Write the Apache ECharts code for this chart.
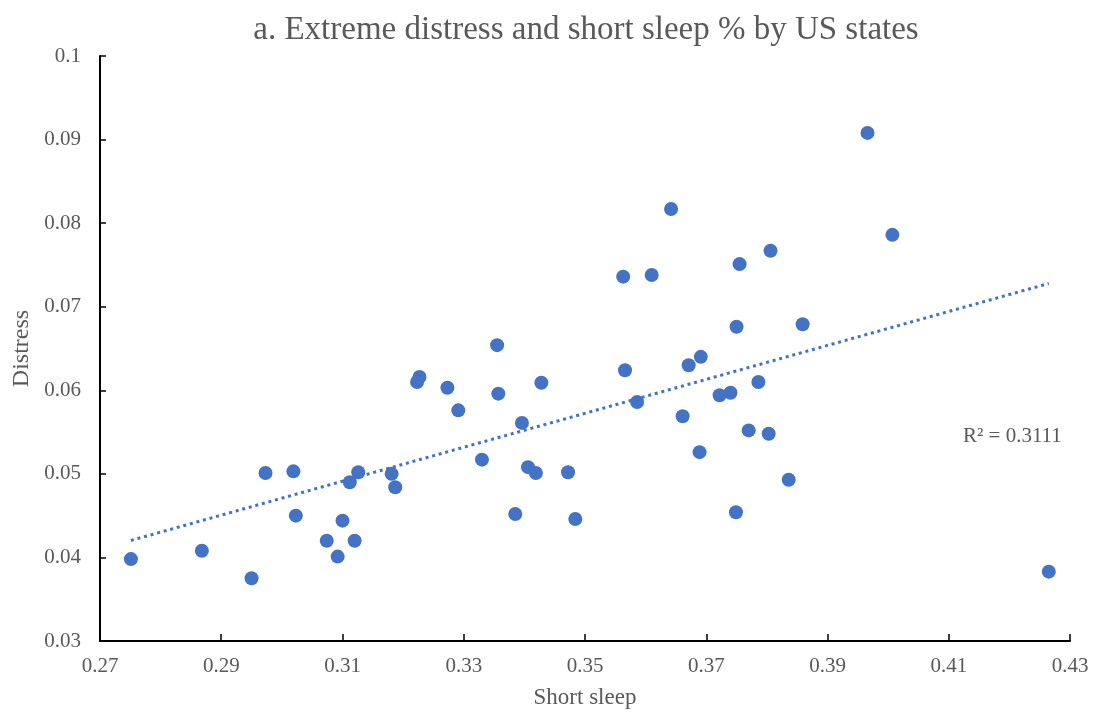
<!DOCTYPE html>
<html style="height: 100%">
   <head>
       <meta charset="utf-8">
   </head>
   <body style="height: 100%; margin: 0">
       <div id="container" style="height: 712px; width: 1093px"></div>
       <script type="text/javascript" src="https://cdn.jsdelivr.net/npm/echarts/dist/echarts.min.js"></script>
       <script type="text/javascript">
// short sleep share by state
var shortSleep = [0.2751,0.2868,0.2950,0.2973,0.3019,0.3023,0.3074,0.3092,0.3100,0.3112,
    0.3120,0.3126,0.3181,0.3187,0.3223,0.3227,0.3273,0.3291,0.3330,0.3385,
    0.3355,0.3357,0.3396,0.3406,0.3419,0.3428,0.3472,0.3484,0.3563,0.3566,
    0.3586,0.3610,0.3642,0.3661,0.3671,0.3689,0.3691,0.3722,0.3740,0.3749,
    0.3750,0.3755,0.3770,0.3786,0.3803,0.3806,0.3836,0.3859,0.3966,0.4007,0.4265];
// extreme distress share by state
var distress = [0.0398,0.0408,0.0375,0.0501,0.0503,0.0450,0.0420,0.0401,0.0444,0.0490,
    0.0420,0.0502,0.0500,0.0484,0.0610,0.0616,0.0603,0.0576,0.0517,0.0452,
    0.0654,0.0596,0.0561,0.0508,0.0501,0.0609,0.0502,0.0446,0.0736,0.0624,
    0.0586,0.0738,0.0817,0.0569,0.0630,0.0526,0.0640,0.0594,0.0597,0.0454,
    0.0676,0.0751,0.0552,0.0610,0.0548,0.0767,0.0493,0.0679,0.0908,0.0786,0.0383];
var rSquaredText = 'R² = 0.3111';

var points = [];
for (var i = 0; i < shortSleep.length; i++) {
    points.push([shortSleep[i], distress[i]]);
}

// least squares trend line over the data range
function linearTrend(xs, ys) {
    var n = xs.length, sx = 0, sy = 0, sxy = 0, sxx = 0;
    for (var i = 0; i < n; i++) {
        sx += xs[i]; sy += ys[i]; sxy += xs[i] * ys[i]; sxx += xs[i] * xs[i];
    }
    var slope = (n * sxy - sx * sy) / (n * sxx - sx * sx);
    var icpt = (sy - slope * sx) / n;
    var x0 = Math.min.apply(null, xs), x1 = Math.max.apply(null, xs);
    return [[x0, icpt + slope * x0], [x1, icpt + slope * x1]];
}
var trend = linearTrend(shortSleep, distress);

var dom = document.getElementById("container");
var myChart = echarts.init(dom);
var serif = '"Liberation Serif", "Times New Roman", serif';
var grey = '#595959';

var option = {
    backgroundColor: '#ffffff',
    animation: false,
    title: {
        text: 'a. Extreme distress and short sleep % by US states',
        left: 581,
        textAlign: 'center',
        top: 9,
        textStyle: { fontFamily: serif, fontSize: 33, fontWeight: 'normal', color: grey }
    },
    grid: { left: 100, right: 23, top: 56, bottom: 71, outerBoundsMode: 'none', containLabel: false },
    xAxis: {
        type: 'value',
        min: 0.27, max: 0.43, interval: 0.02,
        name: 'Short sleep',
        nameLocation: 'center',
        nameGap: 45,
        nameTextStyle: { fontFamily: serif, fontSize: 23, color: grey },
        splitLine: { show: false },
        axisLine: { show: true, lineStyle: { color: '#000', width: 2 } },
        axisTick: { show: true, inside: true, length: 7, lineStyle: { color: '#000', width: 1.5 } },
        axisLabel: {
            fontFamily: serif, fontSize: 21, color: grey, margin: 15,
            formatter: function (v) { return +v.toFixed(2); }
        }
    },
    yAxis: {
        type: 'value',
        min: 0.03, max: 0.1, interval: 0.01,
        name: 'Distress',
        nameLocation: 'center',
        nameGap: 66,
        nameTextStyle: { fontFamily: serif, fontSize: 24, color: grey },
        splitLine: { show: false },
        axisLine: { show: true, lineStyle: { color: '#000', width: 2 } },
        axisTick: { show: true, inside: true, length: 6, lineStyle: { color: '#000', width: 1.5 } },
        axisLabel: {
            fontFamily: serif, fontSize: 21, color: grey, margin: 19,
            formatter: function (v) { return +v.toFixed(2); }
        }
    },
    series: [
        {
            type: 'line',
            data: trend,
            symbol: 'none',
            silent: true,
            lineStyle: { color: '#4472C4', width: 3, type: [3, 3.8] },
            z: 1
        },
        {
            type: 'scatter',
            data: points,
            symbolSize: 14,
            itemStyle: { color: '#4472C4', opacity: 1 },
            z: 2
        }
    ],
    graphic: [{
        type: 'text',
        left: 963,
        top: 426,
        style: { text: rSquaredText, font: '21px ' + serif, fill: grey }
    }]
};

myChart.setOption(option, true);
       </script>
   </body>
</html>
